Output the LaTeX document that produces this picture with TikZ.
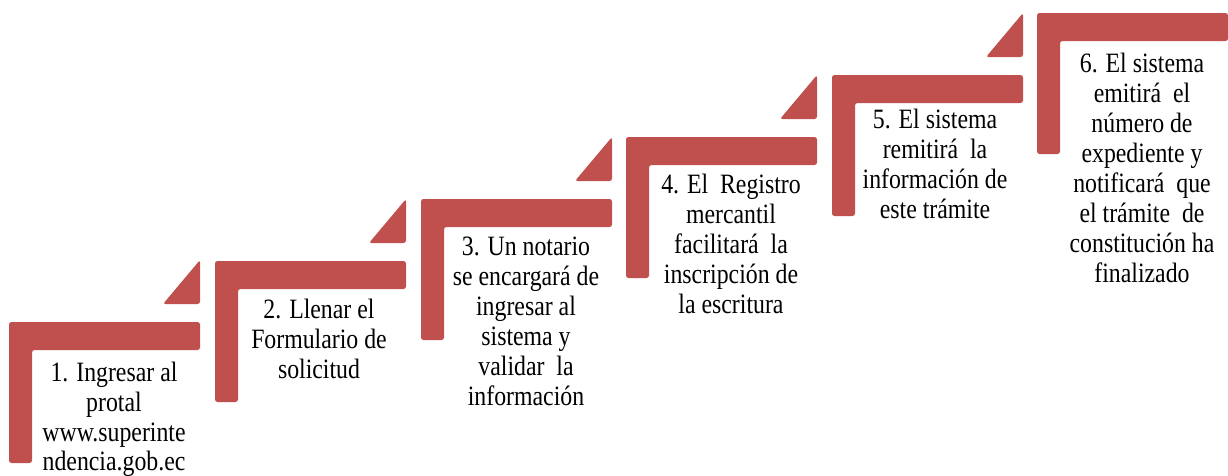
\documentclass[tikz,border=0pt]{standalone}
\usepackage{fontspec}
\setmainfont{Liberation Serif}
\newfontfamily\stepfont[FakeStretch=0.85]{Liberation Serif}
\definecolor{stepred}{HTML}{C0504D}
\begin{document}
\begin{tikzpicture}[x=1pt,y=-1pt,
  stepshape/.style={fill=stepred,draw=none,rounded corners=2.5pt},
  steptext/.style={anchor=north,align=center,inner sep=0pt,font=\stepfont\fontsize{28}{30}\selectfont}]
\useasboundingbox (0,0) rectangle (1228,475);
\foreach \i/\L/\T in {1/9/322, 2/215/261, 3/421/199, 4/626/137, 5/832/75, 6/1037/13} {
  \pgfmathsetmacro{\R}{\L+191}
  \fill[stepshape] (\L,\T) -- (\R,\T) -- (\R,\T+28) -- (\L+23,\T+28) -- (\L+23,\T+141) -- (\L,\T+141) -- cycle;
  \ifnum\i<6
    \fill[stepshape] (\R,\T-62) -- (\R,\T-18) -- (\R-37,\T-18) -- cycle;
  \fi
}
\node[steptext] (t1) at (114,362) {1. Ingresar al\\protal\\www.superinte\\[-1pt]ndencia.gob.ec};
\node[steptext] (t2) at (319,299) {2. Llenar el\\Formulario de\\solicitud};
\node[steptext] (t3) at (526,237) {3. Un notario\\se encargará de\\ingresar al\\sistema y\\validar\ \ la\\información};
\node[steptext] (t4) at (731,174) {4. El\ \ Registro\\mercantil\\facilitará\ \ la\\inscripción de\\la escritura};
\node[steptext] (t5) at (935,109) {5. El sistema\\remitirá\ \ la\\información de\\este trámite};
\node[steptext] (t6) at (1142,53) {6. El sistema\\emitirá\ \ el\\número de\\expediente y\\notificará\ \ que\\el trámite\ \ de\\constitución ha\\finalizado};
\end{tikzpicture}
\end{document}
